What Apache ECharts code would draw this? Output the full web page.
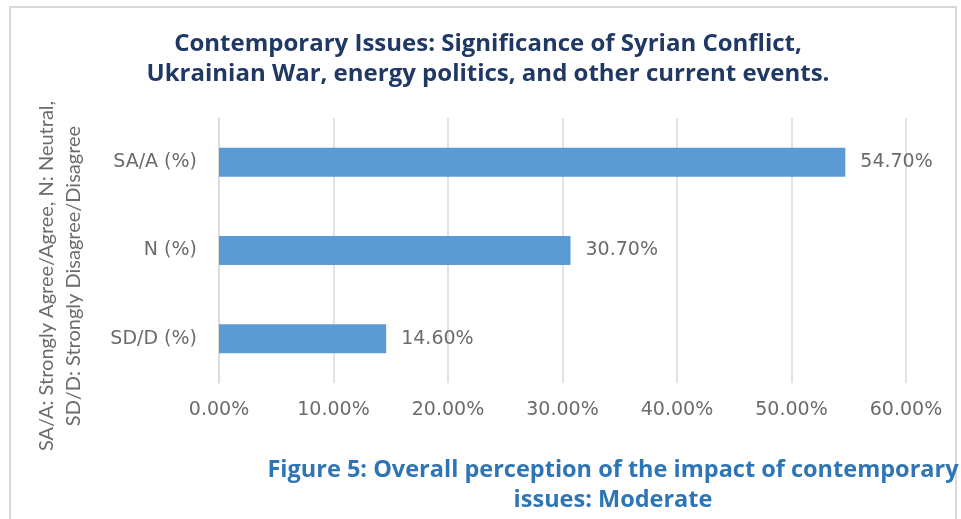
<!DOCTYPE html>
<html>
<head>
<meta charset="utf-8">
<script src="https://cdn.jsdelivr.net/npm/echarts@6/dist/echarts.min.js"></script>
<style>
  html, body { margin: 0; padding: 0; background: #fff; }
  #chart { width: 961px; height: 519px; }
</style>
</head>
<body>
<div id="chart"></div>
<script>
// Response categories (top to bottom) and their shares in percent
const categories = ['SA/A (%)', 'N (%)', 'SD/D (%)'];
const shares = [54.7, 30.7, 14.6];
const xTicks = [0, 10, 20, 30, 40, 50, 60];

const titleLines = [
  'Contemporary Issues: Significance of Syrian Conflict,',
  'Ukrainian War, energy politics, and other current events.'
];
const axisNameLines = [
  'SA/A: Strongly Agree/Agree, N: Neutral,',
  'SD/D: Strongly Disagree/Disagree'
];
const captionLines = [
  'Figure 5: Overall perception of the impact of contemporary',
  'issues: Moderate'
];

const HEAD_FONT = '"Open Sans", Lato, sans-serif';
const LABEL_FONT = '"DejaVu Sans", sans-serif';
const NAME_FONT = 'Lato, sans-serif';
const GREY = '#6b6b6b';

const chart = echarts.init(document.getElementById('chart'), null, { renderer: 'canvas' });

chart.setOption({
  backgroundColor: '#ffffff',
  animation: false,
  graphic: [
    // chart frame
    {
      type: 'rect',
      shape: { x: 10, y: 7, width: 946, height: 530 },
      style: { fill: 'none', stroke: '#d9d9d9', lineWidth: 2 },
      silent: true,
      z: -1
    },
    // two-line heading
    {
      type: 'text',
      x: 488,
      y: 59,
      style: {
        text: titleLines.join('\n'),
        fontFamily: HEAD_FONT,
        fontWeight: 'bold',
        fontSize: 24,
        lineHeight: 30,
        fill: '#1F3864',
        textAlign: 'center',
        textVerticalAlign: 'middle'
      }
    },
    // rotated axis legend text
    {
      type: 'text',
      x: 60,
      y: 276,
      rotation: Math.PI / 2,
      style: {
        text: axisNameLines.join('\n'),
        fontFamily: NAME_FONT,
        fontSize: 20,
        lineHeight: 27,
        fill: GREY,
        textAlign: 'center',
        textVerticalAlign: 'middle'
      }
    },
    // figure caption
    {
      type: 'text',
      x: 613,
      y: 485,
      style: {
        text: captionLines.join('\n'),
        fontFamily: HEAD_FONT,
        fontWeight: 'bold',
        fontSize: 23.5,
        lineHeight: 30,
        fill: '#2E75B6',
        textAlign: 'center',
        textVerticalAlign: 'middle'
      }
    }
  ],
  grid: {
    left: 219,
    right: 55,
    top: 118,
    bottom: 136,
    containLabel: false
  },
  xAxis: {
    type: 'value',
    min: xTicks[0],
    max: xTicks[xTicks.length - 1],
    interval: 10,
    axisLine: { show: false },
    axisTick: { show: false },
    splitLine: { lineStyle: { color: '#d9d9d9', width: 1.5 } },
    axisLabel: {
      margin: 18,
      fontFamily: LABEL_FONT,
      fontSize: 19,
      color: GREY,
      formatter: v => v.toFixed(2) + '%'
    }
  },
  yAxis: {
    type: 'category',
    data: categories,
    inverse: true,
    axisLine: { show: true, lineStyle: { color: '#d9d9d9', width: 1.5 } },
    axisTick: { show: false },
    axisLabel: {
      margin: 22,
      fontFamily: LABEL_FONT,
      fontSize: 19,
      color: GREY
    }
  },
  series: [
    {
      type: 'bar',
      data: shares,
      barWidth: 29,
      itemStyle: { color: '#5B9BD5' },
      label: {
        show: true,
        position: 'right',
        distance: 15,
        fontFamily: LABEL_FONT,
        fontSize: 19,
        color: GREY,
        formatter: p => p.value.toFixed(2) + '%'
      }
    }
  ]
});
</script>
</body>
</html>
